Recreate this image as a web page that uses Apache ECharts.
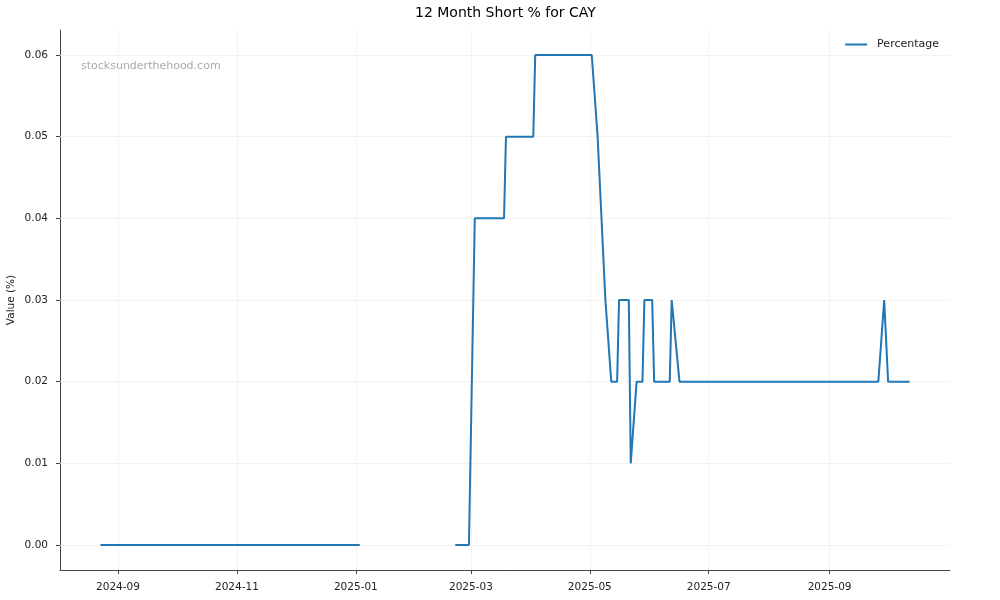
<!DOCTYPE html>
<html>
<head>
<meta charset="utf-8">
<script src="https://cdn.jsdelivr.net/npm/echarts@6/dist/echarts.min.js"></script>
<style>
html,body{margin:0;padding:0;background:#fff;}
#chart{width:1000px;height:600px;}
</style>
</head>
<body>
<div id="chart"></div>
<script>
const dates = ['2024-08-23','2025-01-03','2025-01-20','2025-02-21','2025-02-28','2025-03-03','2025-03-18','2025-03-19','2025-04-02','2025-04-03','2025-05-02','2025-05-05','2025-05-06','2025-05-07','2025-05-08','2025-05-09','2025-05-12','2025-05-15','2025-05-16','2025-05-21','2025-05-22','2025-05-25','2025-05-28','2025-05-29','2025-06-02','2025-06-03','2025-06-11','2025-06-12','2025-06-16','2025-09-26','2025-09-29','2025-09-30','2025-10-01','2025-10-12'];
const percentage = [0,0,null,0,0,0.04,0.04,0.05,0.05,0.06,0.06,0.05,0.05,0.04,0.04,0.03,0.02,0.02,0.03,0.03,0.01,0.02,0.02,0.03,0.03,0.02,0.02,0.03,0.02,0.02,0.03,0.03,0.02,0.02];
const xTicks = ['2024-09-01','2024-11-01','2025-01-01','2025-03-01','2025-05-01','2025-07-01','2025-09-01'];
const yTicks = [0,0.01,0.02,0.03,0.04,0.05,0.06];
const xRange = ['2024-08-02T06:00:00','2025-11-01T18:00:00'];
const yRange = [-0.003061,0.063061];

const toTs = s => new Date(s.length === 10 ? s + 'T00:00:00' : s).getTime();
const xTickTs = xTicks.map(toTs);
const seriesData = dates.map((d, i) => [toTs(d), percentage[i]]);

const font = 'DejaVu Sans';
const chart = echarts.init(document.getElementById('chart'), null, {renderer:'canvas'});
chart.setOption({
  animation:false,
  backgroundColor:'#fff',
  title:{text:'12 Month Short % for CAY',left:410,top:1,textStyle:{fontFamily:font,fontSize:14,fontWeight:'normal',color:'#000'}},
  legend:{right:56,top:34,icon:'rect',itemWidth:22,itemHeight:2,itemGap:8,
    textStyle:{fontFamily:font,fontSize:11,color:'#222',padding:[0,0,0,5]},data:['Percentage']},
  grid:{left:60,right:50,top:30,bottom:30,containLabel:false,outerBoundsMode:'none'},
  graphic:[{type:'text',left:81,top:61,style:{text:'stocksunderthehood.com',fontFamily:font,fontSize:11,fill:'#aaaaaa'}}],
  xAxis:{type:'value',min:toTs(xRange[0]),max:toTs(xRange[1]),
    axisLine:{onZero:false,lineStyle:{color:'#444',width:1}},
    axisTick:{show:true,length:4,lineStyle:{color:'#444'},customValues:xTickTs},
    axisLabel:{customValues:xTickTs,fontFamily:font,fontSize:10.5,color:'#222',margin:12,
      formatter:v=>{const d=new Date(v);return d.getFullYear()+'-'+String(d.getMonth()+1).padStart(2,'0');}},
    splitLine:{show:false}},
  yAxis:{type:'value',min:yRange[0],max:yRange[1],
    name:'Value (%)',nameLocation:'middle',nameGap:43,nameRotate:90,nameMoveOverlap:false,
    nameTextStyle:{fontFamily:font,fontSize:10.5,color:'#222'},
    axisLine:{show:true,onZero:false,lineStyle:{color:'#444',width:1}},
    axisTick:{show:true,length:4,lineStyle:{color:'#444'},customValues:yTicks},
    axisLabel:{customValues:yTicks,fontFamily:font,fontSize:10.5,color:'#222',margin:12,formatter:v=>v.toFixed(2)},
    splitLine:{show:false}},
  series:[
    {name:'grid',type:'line',data:[],silent:true,z:1,
     markLine:{silent:true,symbol:'none',label:{show:false},z:1,
       lineStyle:{color:'#f0f0f0',width:0.8,type:'solid'},
       data:[...xTickTs.map(t=>({xAxis:t})),...yTicks.map(v=>({yAxis:v}))]}},
    {name:'Percentage',type:'line',data:seriesData,showSymbol:false,symbol:'none',connectNulls:false,
     lineStyle:{color:'#1f77b4',width:2},itemStyle:{color:'#1f77b4'},z:3}
  ]
});
</script>
</body>
</html>
